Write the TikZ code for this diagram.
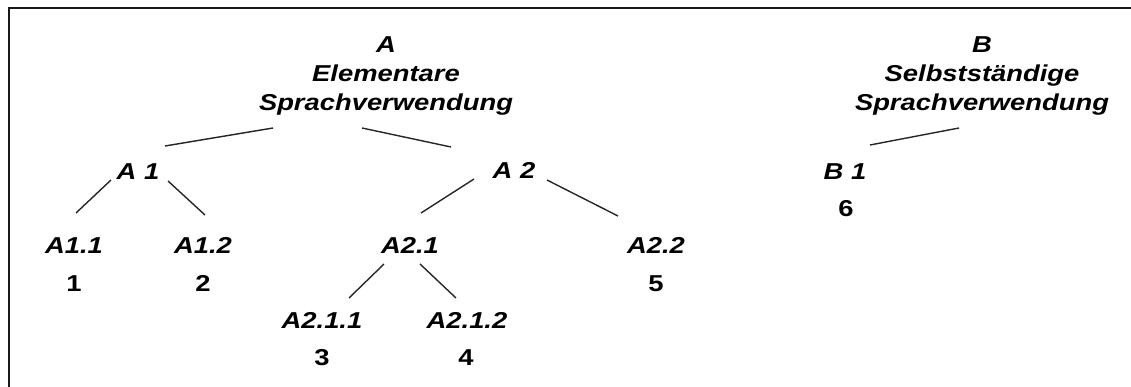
\documentclass[tikz,border=0pt]{standalone}
\usepackage{fontspec}
\setmainfont{Liberation Sans}
\newfontfamily\treefont[FakeStretch=1.19]{Liberation Sans}
\usetikzlibrary{calc}
\tikzset{
  lbl/.style={inner sep=0pt, anchor=base, font=\treefont\fontsize{23}{27}\selectfont\bfseries\itshape},
  num/.style={inner sep=0pt, anchor=base, font=\treefont\fontsize{23}{27}\selectfont\bfseries},
  edge/.style={line width=1.4pt, draw=black!85},
  frame/.style={line width=2pt, draw=black!90}
}
\begin{document}
\begin{tikzpicture}[x=1pt, y=-1pt]
\useasboundingbox (0,0) rectangle (1131,387);
% outer frame (only top and left edges fall inside the page)
\draw[frame] (1131,8.5) -- (8.5,8.5) -- (8.5,387);

% level A
\node[lbl] (A) at (386,53) {A};
\node[lbl] (Aelem) at (386,82) {Elementare};
\node[lbl] (Asprach) at (386,111) {Sprachverwendung};

\node[lbl] (A1) at (138,180) {A 1};
\node[lbl] (A2) at (514,179) {A 2};

\node[lbl] (A11) at (74,254) {A1.1};
\node[num] (n1) at (74,291) {1};
\node[lbl] (A12) at (203,254) {A1.2};
\node[num] (n2) at (203,291) {2};
\node[lbl] (A21) at (410,254) {A2.1};
\node[lbl] (A22) at (656,254) {A2.2};
\node[num] (n5) at (656,291) {5};

\node[lbl] (A211) at (322,328) {A2.1.1};
\node[num] (n3) at (322,365) {3};
\node[lbl] (A212) at (467,328) {A2.1.2};
\node[num] (n4) at (466,365) {4};

% level B
\node[lbl] (B) at (982,53) {B};
\node[lbl] (Bself) at (982,82) {Selbstständige};
\node[lbl] (Bsprach) at (982,111) {Sprachverwendung};
\node[lbl] (B1) at (845,180) {B 1};
\node[num] (n6) at (846,217) {6};

% branches
\draw[edge] ($(Asprach.base)+(-113,17)$) -- ($(A1.base)+(27,-34)$);
\draw[edge] ($(Asprach.base)+(-24,17)$) -- ($(A2.base)+(-63,-32)$);
\draw[edge] ($(A1.base)+(-27,0)$) -- ($(A11.base)+(2,-41)$);
\draw[edge] ($(A1.base)+(30,1)$) -- ($(A12.base)+(2,-39)$);
\draw[edge] ($(A2.base)+(-40,0)$) -- ($(A21.base)+(11,-41)$);
\draw[edge] ($(A2.base)+(33,1)$) -- ($(A22.base)+(-38,-38)$);
\draw[edge] ($(A21.base)+(-26,10)$) -- ($(A211.base)+(27,-30)$);
\draw[edge] ($(A21.base)+(10,10)$) -- ($(A212.base)+(-11,-30)$);
\draw[edge] ($(Bsprach.base)+(-23,17)$) -- ($(B1.base)+(25,-35)$);
\end{tikzpicture}
\end{document}
